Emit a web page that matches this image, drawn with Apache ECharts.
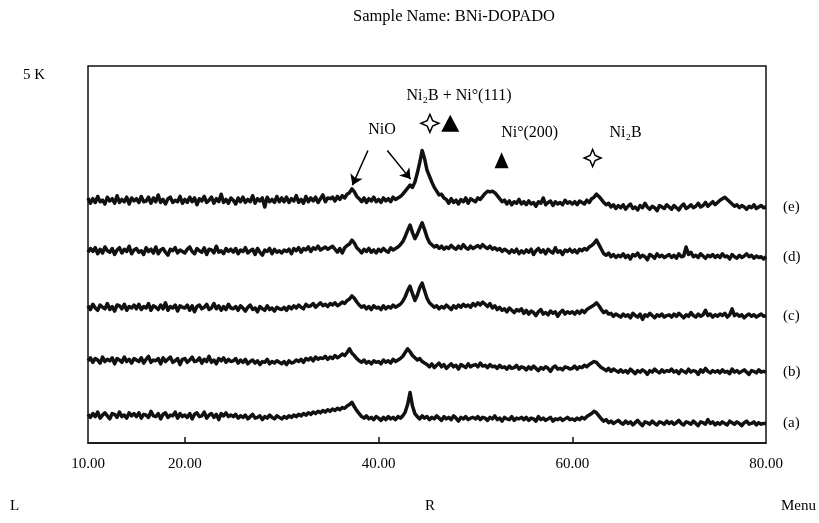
<!DOCTYPE html>
<html>
<head>
<meta charset="utf-8">
<script src="https://cdn.jsdelivr.net/npm/echarts@6/dist/echarts.min.js"></script>
<style>
  html, body { margin: 0; padding: 0; background: #fff; }
  #chart { width: 819px; height: 523px; }
</style>
</head>
<body>
<div id="chart"></div>
<script>
// 2θ sampling: 10.00 .. 80.00 every 0.25 degrees
const thetaStart = 10;
const thetaStep = 0.25;

// intensities in units of 10 counts, relative to each trace's baseline (rows of 5 degrees)
const traceA = [
  1,-3,2,-2,4,-4,0,3,-1,-5,2,1,-3,4,-2,0,-4,3,-1,2,
  -2,3,-4,1,0,-3,5,-1,-2,2,-5,1,3,-3,0,-1,4,-4,2,-2,
  0,-3,2,-5,1,3,-2,-1,4,-4,0,2,-3,1,-6,2,-1,3,-2,0,
  -2,1,-4,-1,-3,0,-5,-2,1,-4,-3,-1,-6,-2,-4,0,-3,-5,-1,-3,
  -5,-2,-4,-1,-3,0,-2,1,-1,2,0,3,1,4,2,5,3,6,4,7,
  5,8,6,9,7,10,9,12,14,17,11,6,2,-2,-4,-1,-5,-3,-6,-2,
  -4,-7,-3,-6,-2,-5,-3,-6,-2,-4,-1,4,14,30,12,2,-2,-5,-1,-4,
  -2,-6,-3,-5,-1,-4,-7,-2,-5,-3,-6,-1,-4,-8,-3,-5,-2,-6,-4,-3,
  -5,-2,-6,-3,-4,-7,-3,-5,-1,-6,-4,-8,-3,-5,-6,-2,-7,-4,-5,-3,
  -6,-3,-7,-4,-5,-8,-2,-6,-4,-7,-5,-3,-8,-5,-6,-4,-7,-5,-3,-6,
  -5,-7,-4,-6,-3,-5,-2,0,2,5,3,-1,-5,-8,-6,-10,-8,-11,-9,-7,
  -10,-12,-8,-11,-9,-13,-10,-7,-11,-14,-9,-10,-12,-8,-11,-13,-9,-10,-12,-8,
  -11,-9,-12,-10,-7,-11,-13,-9,-10,-12,-8,-11,-14,-9,-10,-12,-6,-11,-9,-13,
  -10,-12,-9,-11,-13,-8,-10,-12,-9,-11,-14,-10,-8,-12,-11,-9,-13,-10,-12,-11,
  -11
];
const traceB = [
  -1,3,-3,2,0,-4,4,-2,1,-1,3,-5,2,0,-3,4,-2,1,-4,2,
  0,-2,3,-4,1,5,-3,0,-1,2,-5,3,-2,1,4,-3,-1,2,-6,1,
  2,-3,0,4,-2,-1,3,-4,1,-2,5,-3,0,-5,2,-1,3,-3,1,-2,
  -1,2,-4,0,-3,1,-5,-2,0,-4,-1,-6,-2,-3,1,-5,-2,-4,-1,-3,
  -5,-2,-6,-1,-4,-3,0,-2,1,-3,2,0,3,-1,4,1,3,2,5,1,
  4,2,6,3,5,8,6,10,15,9,6,2,-1,-3,0,-4,-2,-5,-1,-3,
  -2,-5,0,-3,-1,-4,1,-2,0,2,5,10,15,11,6,3,0,2,-2,-4,
  -6,-9,-5,-10,-7,-4,-9,-6,-11,-8,-5,-9,-7,-12,-6,-8,-10,-5,-9,-7,
  -6,-9,-4,-8,-7,-10,-6,-9,-8,-11,-7,-10,-9,-12,-8,-11,-10,-7,-12,-9,
  -10,-13,-9,-12,-8,-11,-14,-10,-12,-9,-11,-15,-10,-8,-12,-11,-13,-9,-10,-12,
  -11,-8,-12,-9,-10,-7,-9,-6,-4,-2,-3,-7,-10,-12,-14,-11,-15,-12,-14,-16,
  -13,-16,-14,-17,-12,-15,-18,-14,-16,-13,-15,-19,-14,-16,-12,-15,-17,-13,-16,-14,
  -15,-12,-16,-14,-18,-13,-15,-17,-12,-16,-14,-15,-19,-13,-16,-11,-15,-17,-14,-16,
  -14,-17,-13,-16,-15,-18,-12,-16,-14,-17,-15,-13,-16,-19,-14,-15,-17,-13,-16,-15,
  -16
];
const traceC = [
  2,-3,4,-1,-4,3,0,-2,5,-3,1,-5,3,2,-2,4,-4,1,-1,3,
  -2,4,-3,1,-1,5,-4,2,0,-3,3,-2,6,-4,1,-1,3,-5,2,0,
  -1,3,-4,2,-6,1,3,-2,0,4,-3,-1,5,-2,2,-4,1,-3,4,-1,
  -2,1,-4,2,-1,-5,0,3,-3,-1,-6,1,-2,-4,2,-3,-1,-5,0,-2,
  -3,0,-4,1,-2,2,-1,3,0,-2,4,1,2,5,0,3,6,2,4,1,
  5,3,6,2,4,7,5,9,11,15,12,7,3,0,2,-2,1,-3,2,-1,
  0,-3,2,-2,1,-1,3,0,2,4,8,14,22,28,18,9,16,26,32,22,
  12,6,3,0,2,-2,1,-1,3,0,-3,2,-1,3,0,4,1,3,0,5,
  2,6,3,7,4,1,5,-1,2,-3,0,-4,-2,-6,-1,-4,-7,-3,-5,-2,
  -8,-4,-9,-5,-7,-11,-6,-3,-9,-7,-10,-5,-8,-6,-12,-7,-4,-9,-6,-8,
  -6,-9,-5,-8,-4,-7,-3,-1,1,3,6,2,-3,-7,-5,-9,-8,-12,-9,-11,
  -13,-9,-12,-10,-14,-8,-11,-13,-9,-16,-10,-12,-8,-11,-14,-10,-12,-9,-13,-11,
  -10,-13,-9,-12,-8,-11,-14,-10,-12,-7,-11,-13,-9,-12,-10,-4,-11,-9,-13,-10,
  -12,-9,-11,-8,-13,-10,-2,-11,-9,-12,-10,-14,-11,-9,-12,-10,-13,-11,-9,-12,
  -11
];
const traceD = [
  -2,3,-1,4,-4,2,-3,5,0,-2,3,-5,1,4,-3,2,-1,6,-4,1,
  3,-2,0,-5,4,-1,2,-3,5,-4,1,3,-2,-6,2,0,4,-3,1,-1,
  -3,2,5,-1,-4,3,0,-2,4,-5,2,1,-3,6,-2,0,-4,3,-1,2,
  -2,3,-4,1,-1,4,-3,0,2,-5,3,-2,-6,1,-1,3,-4,2,-2,0,
  -3,1,-1,2,-4,3,0,4,-2,3,1,5,-1,4,2,6,1,3,5,2,
  4,6,2,-2,3,-3,4,7,9,14,10,4,1,-3,2,-1,3,-2,1,-3,
  2,-1,3,0,-2,4,1,3,5,8,12,19,27,34,24,16,22,30,37,28,
  18,11,8,5,7,3,6,2,5,3,7,4,2,6,3,8,4,2,6,3,
  5,7,4,8,5,3,6,2,4,1,3,-1,2,0,-3,1,-2,2,-4,0,
  -3,1,-2,2,-5,0,3,-2,1,-4,2,-1,-3,4,-2,0,-5,1,-1,2,
  -2,1,-3,2,0,3,1,5,7,10,14,8,2,-4,-6,-3,-8,-5,-9,-6,
  -8,-4,-9,-6,-11,-5,-7,-3,-9,-6,-8,-12,-5,-7,-10,-4,-8,-6,-9,-7,
  -5,-9,-6,-10,-4,-8,-7,5,-5,-2,-8,-6,-9,-4,-7,-10,-6,-8,-5,-9,
  -6,-9,-4,-8,-7,-11,-5,-8,-10,-6,-9,-7,-4,-8,-6,-10,-7,-9,-8,-11,
  -8
];
const traceE = [
  3,-4,2,-3,5,-2,0,-5,4,-1,2,-4,6,-3,1,-2,4,-5,3,-1,
  2,-3,5,-2,-1,4,-4,3,-2,7,-3,1,-5,2,4,-3,0,-2,5,-4,
  1,-3,4,-2,3,-6,2,-1,5,-3,0,4,-4,2,-2,8,-3,1,-4,3,
  0,-5,3,-2,4,-3,1,-2,6,-4,2,-1,3,-9,4,-2,1,-3,5,-2,
  3,-2,4,-3,2,-1,6,-3,1,-4,5,-2,3,-1,4,-3,2,7,-2,3,
  2,4,-1,5,1,6,3,8,10,15,11,5,2,-2,3,-3,2,-1,4,-2,
  1,-3,3,-1,2,-2,4,1,3,5,8,12,16,20,17,24,36,50,66,55,
  40,32,24,17,12,7,8,3,1,-4,2,-3,0,-5,1,-2,3,-4,2,0,
  -2,3,1,5,9,12,11,12,10,6,2,-2,0,-5,-1,-6,-2,-4,1,-5,
  -2,-6,-1,-5,-3,-8,-2,-4,3,-6,-3,-1,-7,-2,-5,-3,-6,0,-4,-2,
  -5,-2,-6,-1,-3,-5,0,-3,2,4,8,5,1,-3,-6,-4,-9,-6,-11,-7,
  -10,-6,-12,-8,-5,-11,-9,-13,-7,-10,-4,-9,-12,-8,-10,-14,-7,-9,-11,-6,
  -9,-12,-7,-10,-13,-8,-5,-11,-9,-6,-10,-8,-4,-9,-7,-3,-8,-5,-2,-6,
  -3,0,2,4,1,-2,-5,-8,-6,-10,-7,-9,-12,-8,-10,-6,-11,-9,-7,-10,
  -9
];

// vertical stacking offset of each pattern (units of 10 counts)
const traceNames = ['(a)', '(b)', '(c)', '(d)', '(e)'];
const traceOffsets = [37, 110, 180, 255, 322];
const traces = [traceA, traceB, traceC, traceD, traceE];

const xLabelValues = [10, 20, 40, 60, 80];
const xTickValues = [20, 40, 60];

const serif = 'Liberation Serif';
const starPath = 'path://M0,-10 L3,-3 L10,0 L3,3 L0,10 L-3,3 L-10,0 L-3,-3 Z';

function textPoint (coord, text) {
  return {
    coord: coord, symbol: 'circle', symbolSize: 0,
    label: { show: true, position: 'inside', formatter: text, color: '#000', fontFamily: serif, fontSize: 16 }
  };
}

const series = traces.map(function (vals, k) {
  const pts = vals.map(function (v, i) {
    return [thetaStart + i * thetaStep, traceOffsets[k] + v];
  });
  return {
    name: traceNames[k],
    type: 'line',
    data: pts,
    showSymbol: false,
    symbol: 'none',
    lineStyle: { color: '#111', width: 3.5, join: 'round' },
    endLabel: { show: true, formatter: '{a}', distance: 17, color: '#000', fontFamily: serif, fontSize: 15 }
  };
});

// peak annotations live on the top pattern
series[4].markPoint = {
  silent: true,
  data: [
    textPoint([48.3, 460], 'Ni₂B + Ni°(111)'),
    textPoint([40.35, 415], 'NiO'),
    textPoint([55.6, 412], 'Ni°(200)'),
    textPoint([65.5, 412], 'Ni₂B'),
    { coord: [45.3, 424], symbol: starPath, symbolSize: 18, itemStyle: { color: '#fff', borderColor: '#000', borderWidth: 1.5 } },
    { coord: [47.4, 424], symbol: 'triangle', symbolSize: [18, 17], itemStyle: { color: '#000' } },
    { coord: [52.7, 375], symbol: 'triangle', symbolSize: [14, 16], itemStyle: { color: '#000' } },
    { coord: [62.1, 378], symbol: starPath, symbolSize: 17, itemStyle: { color: '#fff', borderColor: '#000', borderWidth: 1.5 } }
  ]
};
series[4].markLine = {
  silent: true,
  symbol: ['none', 'arrow'],
  symbolSize: 10,
  label: { show: false },
  lineStyle: { color: '#000', width: 1.5, type: 'solid' },
  data: [
    [{ coord: [38.9, 388] }, { coord: [37.3, 342] }],
    [{ coord: [40.9, 388] }, { coord: [43.3, 350] }]
  ]
};

const chart = echarts.init(document.getElementById('chart'));
chart.setOption({
  animation: false,
  backgroundColor: '#fff',
  title: {
    text: 'Sample Name: BNi-DOPADO',
    left: 348, top: 3,
    textStyle: { fontFamily: serif, fontSize: 16.5, fontWeight: 'normal', color: '#000' }
  },
  grid: { left: 88, right: 53, top: 66, bottom: 80, show: true, borderColor: '#111', borderWidth: 1.5 },
  xAxis: {
    type: 'value', min: 10, max: 80,
    axisLine: { lineStyle: { color: '#111', width: 1.5 } },
    splitLine: { show: false },
    axisTick: { customValues: xTickValues, inside: true, length: 6, lineStyle: { color: '#111', width: 1.5 } },
    axisLabel: {
      customValues: xLabelValues, margin: 14,
      formatter: function (v) { return v.toFixed(2); },
      color: '#000', fontFamily: serif, fontSize: 15
    }
  },
  yAxis: {
    type: 'value', min: 0, max: 500,
    axisLine: { show: false },
    axisTick: { show: false },
    splitLine: { show: false },
    axisLabel: {
      customValues: [500], margin: 43, verticalAlign: 'top', padding: [2, 0, 0, 0],
      formatter: function (v) { return (v / 100) + ' K'; },
      color: '#000', fontFamily: serif, fontSize: 15
    }
  },
  graphic: [
    { type: 'text', left: 10, top: 499, style: { text: 'L', font: '15px "Liberation Serif"', fill: '#000' } },
    { type: 'text', left: 425, top: 499, style: { text: 'R', font: '15px "Liberation Serif"', fill: '#000' } },
    { type: 'text', right: 3, top: 499, style: { text: 'Menu', font: '15px "Liberation Serif"', fill: '#000' } }
  ],
  series: series
});
</script>
</body>
</html>
